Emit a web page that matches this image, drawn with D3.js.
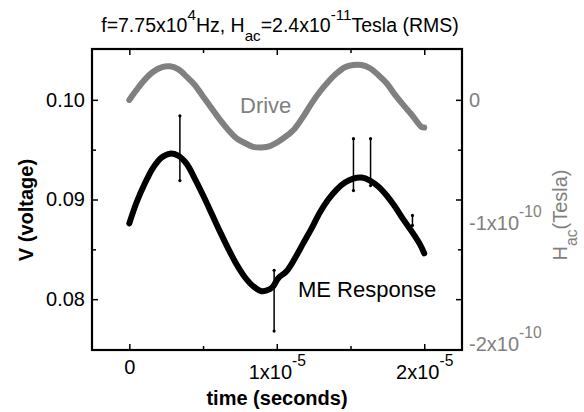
<!DOCTYPE html>
<html>
<head>
<meta charset="utf-8">
<script src="https://cdn.jsdelivr.net/npm/d3@7"></script>
<style>
body { margin: 0; background: #fff; }
svg { font-family: "Liberation Sans", Arial, sans-serif; }
</style>
</head>
<body>
<svg width="584" height="412"></svg>
<script>
// time in microseconds, ME response in volts
var respTime = [0, 0.49, 1.05, 1.62, 2.18, 2.75, 3.31, 3.88, 4.44, 5.01, 5.58, 6.14, 6.70, 7.27, 7.84, 8.40, 8.97, 9.53, 9.76,
    10.1, 10.66, 11.23, 11.79, 12.36, 12.92, 13.49, 14.06, 14.62, 15.18, 15.75, 16.32, 16.88, 17.45, 18.01, 18.58, 19.15, 19.71, 20.0];
var respVolt = [0.0876, 0.0897, 0.0916, 0.0932, 0.0942, 0.0946, 0.0944, 0.0936, 0.0921, 0.0904, 0.0886, 0.0868, 0.0851, 0.0835, 0.0822, 0.0813, 0.0808, 0.0810, 0.0813,
    0.0821, 0.0828, 0.0841, 0.0856, 0.0871, 0.0887, 0.0900, 0.0910, 0.0917, 0.0921, 0.0922, 0.0919, 0.0913, 0.0904, 0.0893, 0.0880, 0.0868, 0.0855, 0.0846];

// drive field, units of 1e-11 Tesla
var driveTime = [0, 0.49, 1.05, 1.62, 2.18, 2.75, 3.31, 3.88, 4.44, 5.01, 5.58, 6.14, 6.70, 7.27, 7.84, 8.40, 8.97, 9.53,
    10.1, 10.66, 11.23, 11.79, 12.36, 12.92, 13.49, 14.06, 14.62, 15.18, 15.75, 16.32, 16.88, 17.45, 18.01, 18.58, 19.15, 19.8, 20.0];
var driveField = [-0.08, 0.75, 1.6, 2.25, 2.62, 2.7, 2.46, 1.85, 1.16, 0.19, -0.77, -1.71, -2.54, -3.25, -3.64, -3.95, -4.0, -3.9,
    -3.53, -3.05, -2.43, -1.46, -0.36, 0.6, 1.43, 2.12, 2.62, 2.81, 2.81, 2.54, 1.99, 1.3, 0.36, -0.49, -1.3, -2.29, -2.36];

// glitches (vertical bars) in the response
var spikeTime = [3.43, 9.82, 15.2, 16.36, 19.2];
var spikeLo = [0.0919, 0.0768, 0.0909, 0.0914, 0.0874];
var spikeHi = [0.0984, 0.0829, 0.0961, 0.0961, 0.0884];

var xTicks = [0, 10, 20];
var xMinor = [5, 15];
var xTickLabels = [[["0", 0]], [["1x10", 0], ["-5", 1]], [["2x10", 0], ["-5", 1]]];
var vTicks = [0.08, 0.09, 0.10];
var vMinor = [0.085, 0.095];
var hTicks = [0, -10, -20];
var hTickLabels = [[["0", 0]], [["-1x10", 0], ["-10", 1]], [["-2x10", 0], ["-10", 1]]];
var titleParts = [["f=7.75x10", 0], ["4", 1], ["Hz, H", 0], ["ac", -1], ["=2.4x10", 0], ["-11", 1], ["Tesla (RMS)", 0]];

var svg = d3.select("svg");
var gray = "#808080";

var x = d3.scaleLinear().domain([-2.53, 22.56]).range([92, 462]);
var yV = d3.scaleLinear().domain([0.0749, 0.1051]).range([350, 49]);
var yH = d3.scaleLinear().domain([-20.74, 4.13]).range([350, 49]);

// writes text with super/subscripts into a text element
function richText(sel, parts, size, base) {
    var prev = -(base || 0);
    parts.forEach(function (p) {
        var shift = p[1] === 1 ? -0.64 * size : (p[1] === -1 ? 0.48 * size : 0);
        sel.append("tspan")
            .text(p[0])
            .attr("font-size", p[1] === 0 ? size : size * 0.78)
            .attr("dy", shift - prev);
        prev = shift;
    });
}

// drive
var driveLine = d3.line()
    .x(function (d, i) { return x(driveTime[i]); })
    .y(function (d) { return yH(d); })
    .curve(d3.curveCatmullRom);
svg.append("path")
    .attr("d", driveLine(driveField))
    .attr("fill", "none")
    .attr("stroke", gray)
    .attr("stroke-width", 6)
    .attr("stroke-linecap", "round");

// response
var respLine = d3.line()
    .x(function (d, i) { return x(respTime[i]); })
    .y(function (d) { return yV(d); })
    .curve(d3.curveCatmullRom);
svg.append("path")
    .attr("d", respLine(respVolt))
    .attr("fill", "none")
    .attr("stroke", "#000")
    .attr("stroke-width", 6)
    .attr("stroke-linecap", "round");

var spikes = svg.append("g");
spikeTime.forEach(function (t, i) {
    spikes.append("line")
        .attr("x1", x(t)).attr("x2", x(t))
        .attr("y1", yV(spikeLo[i])).attr("y2", yV(spikeHi[i]))
        .attr("stroke", "#000").attr("stroke-width", 1.5);
    [spikeLo[i], spikeHi[i]].forEach(function (v) {
        spikes.append("circle").attr("cx", x(t)).attr("cy", yV(v)).attr("r", 1.6);
    });
});

// inward ticks on all four sides
function ticks(axis, tr, vals, size) {
    var g = svg.append("g").attr("transform", tr)
        .call(axis.tickValues(vals).tickSize(-size).tickFormat(""));
    g.select(".domain").remove();
    g.selectAll("line").attr("stroke-width", 1.5);
    return g;
}
ticks(d3.axisBottom(x), "translate(0,350)", xTicks, 6);
ticks(d3.axisBottom(x), "translate(0,350)", xMinor, 4);
ticks(d3.axisTop(x), "translate(0,49)", xTicks, 6);
ticks(d3.axisTop(x), "translate(0,49)", xMinor, 4);
ticks(d3.axisLeft(yV), "translate(92,0)", vTicks, 6);
ticks(d3.axisLeft(yV), "translate(92,0)", vMinor, 4);
ticks(d3.axisRight(yV), "translate(462,0)", vTicks, 6);
ticks(d3.axisRight(yV), "translate(462,0)", vMinor, 4);

svg.append("rect")
    .attr("x", 92).attr("y", 49).attr("width", 370).attr("height", 301)
    .attr("fill", "none").attr("stroke", "#000").attr("stroke-width", 2.2);

// tick labels
var xAx = svg.append("g").attr("transform", "translate(0,350)")
    .call(d3.axisBottom(x).tickValues(xTicks).tickSize(0).tickPadding(0));
xAx.select(".domain").remove();
xAx.selectAll("text").attr("font-size", 20).attr("fill", "#000").attr("font-family", null).attr("dy", null)
    .each(function (d, i) {
        var parts = xTickLabels[i];
        d3.select(this).text(null);
        richText(d3.select(this), parts, 20, parts.length > 1 ? 29 : 24);
    });

var vAx = svg.append("g").attr("transform", "translate(92,0)")
    .call(d3.axisLeft(yV).tickValues(vTicks).tickSize(0).tickPadding(7).tickFormat(d3.format(".2f")));
vAx.select(".domain").remove();
vAx.selectAll("text").attr("font-size", 20).attr("fill", "#000").attr("font-family", null);

var hAx = svg.append("g").attr("transform", "translate(462,0)")
    .call(d3.axisRight(yH).tickValues(hTicks).tickSize(0).tickPadding(7));
hAx.select(".domain").remove();
hAx.selectAll("text").attr("font-size", 20).attr("fill", gray).attr("font-family", null).attr("dy", null)
    .each(function (d, i) {
        var parts = hTickLabels[i];
        d3.select(this).text(null);
        richText(d3.select(this), parts, 20, parts.length > 1 ? 9.5 : 7.5);
    });

// axis titles
svg.append("text")
    .attr("transform", "translate(33,210) rotate(-90)")
    .attr("text-anchor", "middle").attr("font-size", 20).attr("font-weight", "bold")
    .text("V (voltage)");
svg.append("text")
    .attr("x", 277).attr("y", 405)
    .attr("text-anchor", "middle").attr("font-size", 20).attr("font-weight", "bold")
    .text("time (seconds)");
var hTitle = svg.append("text")
    .attr("transform", "translate(567,215) rotate(-90)")
    .attr("text-anchor", "middle").attr("fill", gray);
richText(hTitle, [["H", 0], ["ac", -1], ["(Tesla)", 0]], 20);

// title
var title = svg.append("text").attr("x", 280).attr("y", 32).attr("text-anchor", "middle");
richText(title, titleParts, 19.5);

// annotations
svg.append("text").attr("x", 240).attr("y", 113).attr("font-size", 22).attr("fill", gray).text("Drive");
svg.append("text").attr("x", 298).attr("y", 297).attr("font-size", 22).text("ME Response");
</script>
</body>
</html>
